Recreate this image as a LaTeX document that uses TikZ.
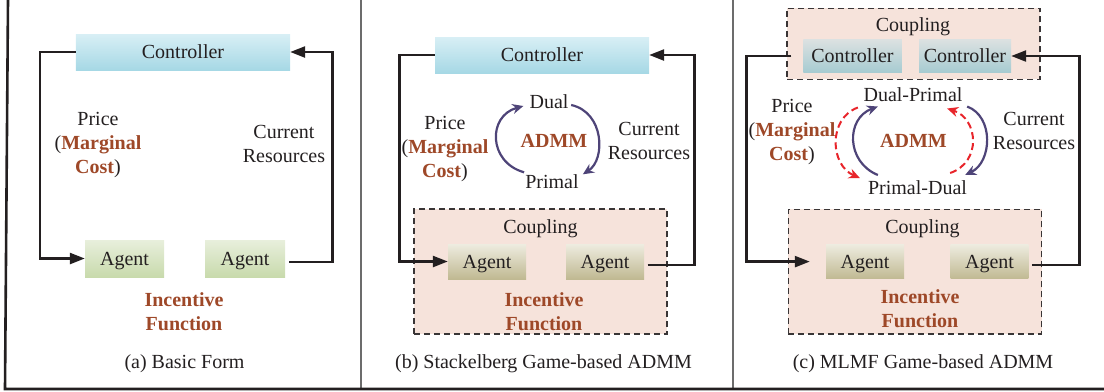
\documentclass[tikz,border=0pt]{standalone}
\usepackage{fontspec}
\setmainfont{Liberation Serif}
\usetikzlibrary{arrows.meta,calc}
\definecolor{ink}{HTML}{231F20}
\definecolor{rust}{RGB}{158,72,40}
\definecolor{loopc}{HTML}{4E4478}
\definecolor{redc}{HTML}{E8252B}
\definecolor{cplfill}{HTML}{F6E3DB}
\definecolor{ctrltop}{RGB}{216,239,245}
\definecolor{ctrlbot}{RGB}{166,216,229}
\definecolor{ctrlgtop}{RGB}{220,225,225}
\definecolor{ctrlgbot}{RGB}{166,203,209}
\definecolor{aggtop}{RGB}{232,239,220}
\definecolor{aggbot}{RGB}{200,218,172}
\definecolor{agttop}{RGB}{238,236,224}
\definecolor{agtbot}{RGB}{192,185,146}
\newcommand\bhi[1]{\textbf{\color{rust}#1}}
\tikzset{
  lbl/.style={inner sep=0pt, text height=13.6bp, text depth=0pt},
  multi/.style={inner sep=0pt, align=center},
  box/.style={lbl, draw=none},
  ctrlblue/.style={box, top color=ctrltop, bottom color=ctrlbot},
  ctrlgray/.style={box, top color=ctrlgtop, bottom color=ctrlgbot},
  agentgreen/.style={box, top color=aggtop, bottom color=aggbot},
  agenttan/.style={box, top color=agttop, bottom color=agtbot},
  cplbox/.style={draw=ink!90, fill=cplfill, line width=1.3bp, dash pattern=on 6bp off 4bp, inner sep=0pt},
  conn/.style={draw=ink, line width=2.5bp},
  tip/.style={-{Triangle[length=15bp,width=11bp]}},
  loopline/.style={draw=loopc, line width=2.2bp, -{Stealth[length=11bp,width=10bp]}},
  redline/.style={draw=redc, line width=2bp, dash pattern=on 7bp off 4bp, -{Stealth[length=11bp,width=10bp]}},
}
\begin{document}
\begin{tikzpicture}[x=1bp, y=-1bp, font=\fontsize{20bp}{24bp}\selectfont, text=ink]
\useasboundingbox (0,0) rectangle (1104,391);

% frame and panel separators
\draw[gray!85!black, line width=1.2bp] (361,0) -- (361,389);
\draw[gray!85!black, line width=1.2bp] (733,0) -- (733,389);
\draw[ink, line width=2.6bp] (8,0) -- (5,389) -- (1104,389);

% ---------------- (a) Basic Form ----------------
\node[ctrlblue, minimum width=214bp, minimum height=36bp] (ctrlA) at (183,52) {Controller};
\node[agentgreen, minimum width=79bp, minimum height=37bp] (agA1) at (124.5,258.5) {Agent};
\node[agentgreen, minimum width=80bp, minimum height=37bp] (agA2) at (245,258.5) {Agent};
\node[multi] (priceA) at (98,145) {Price\\(\bhi{Marginal}\\\bhi{Cost})};
\node[multi] (curA) at (284,143.6) {Current\\Resources};
\node[multi] (incA) at (184,312) {\bhi{Incentive}\\\bhi{Function}};
\node[lbl] (capA) at (184.5,362) {(a) Basic Form};
\coordinate (aL) at (40,0);
\coordinate (aR) at (332.3,0);
\draw[conn, tip] (ctrlA.west) -| (aL |- agA1.west) -- (agA1.west);
\draw[conn, tip] ($(agA2.east)+(4,3.5)$) -| (aR |- ctrlA.east) -- (ctrlA.east);

% ---------------- (b) Stackelberg Game-based ADMM ----------------
\node[cplbox, minimum width=253bp, minimum height=125bp] (cplB) at (540.5,271.5) {};
\node[lbl] (cplBt) at (540.5,227) {Coupling};
\node[ctrlblue, minimum width=214bp, minimum height=36bp] (ctrlB) at (542,55) {Controller};
\node[agenttan, minimum width=78bp, minimum height=35bp] (agB1) at (487,261.5) {Agent};
\node[agenttan, minimum width=78bp, minimum height=35bp] (agB2) at (605,261.5) {Agent};
\node[multi] (priceB) at (445,149.5) {Price\\(\bhi{Marginal}\\\bhi{Cost})};
\node[multi] (curB) at (649,140.5) {Current\\Resources};
\node[multi] (incB) at (544,312) {\bhi{Incentive}\\\bhi{Function}};
\node[lbl] (capB) at (543.5,361.6) {(b) Stackelberg Game-based ADMM};
\node[lbl] (dualB) at (549,102) {Dual};
\node[lbl] (primB) at (552,181.3) {Primal};
\node[lbl] (admmB) at (554,140.5) {\bhi{ADMM}};
\coordinate (bL) at (399.3,0);
\coordinate (bR) at (694.3,0);
\draw[conn, tip] (ctrlB.west) -| (bL |- agB1.west) -- (agB1.west);
\draw[conn, tip] ($(agB2.east)+(3.3,3.5)$) -| (bR |- ctrlB.east) -- (ctrlB.east);
\draw[loopline] ($(primB.north west)+(-1,-2)$) .. controls +(-36,-10) and +(-36,10) .. ($(dualB.west)+(-6,4)$);
\draw[loopline] ($(dualB.east)+(2.5,3)$) .. controls +(33,7) and +(23,-15) .. ($(primB.north east)+(4,0)$);

% ---------------- (c) MLMF Game-based ADMM ----------------
\node[cplbox, minimum width=253bp, minimum height=71bp] (cplTop) at (913.5,43.75) {};
\node[lbl] (cplTopt) at (913,24.7) {Coupling};
\node[ctrlgray, minimum width=98.5bp, minimum height=33.4bp] (ctrlC1) at (852.5,56) {Controller};
\node[ctrlgray, minimum width=92bp, minimum height=33.4bp] (ctrlC2) at (965,56) {Controller};
\node[cplbox, minimum width=253.4bp, minimum height=124.7bp] (cplC) at (915,271.6) {};
\node[lbl] (cplCt) at (922.5,227) {Coupling};
\node[agenttan, minimum width=78bp, minimum height=34.7bp] (agC1) at (865,261.6) {Agent};
\node[agenttan, minimum width=77.6bp, minimum height=34.7bp] (agC2) at (989.5,261.6) {Agent};
\node[multi] (priceC) at (792,132.5) {Price\\(\bhi{Marginal}\\\bhi{Cost})};
\node[multi] (curC) at (1034,130.5) {Current\\Resources};
\node[multi] (incC) at (920,308.8) {\bhi{Incentive}\\\bhi{Function}};
\node[lbl] (capC) at (923,361.6) {(c) MLMF Game-based ADMM};
\node[lbl] (dpC) at (913,94.5) {Dual-Primal};
\node[lbl] (pdC) at (917.5,188) {Primal-Dual};
\node[lbl] (admmC) at (913.5,141) {\bhi{ADMM}};
\coordinate (cL) at (746.7,0);
\coordinate (cR) at (1079.3,0);
\draw[conn, tip] ($(cplTop.west |- ctrlC1.west)+(5,0)$) -| (cL |- agC1.west) -- ($(agC1.west)+(-16,0)$);
\draw[conn, tip] ($(agC2.east)+(3.4,3.4)$) -| (cR |- ctrlC2.east) -- (ctrlC2.east);
% primal-dual loop (solid) and dual-primal loop (dashed)
\draw[loopline] ($(pdC.north west)+(10,-6)$) .. controls +(-32,-13) and +(-32,12) .. ($(dpC.south west)+(14.5,5)$);
\draw[loopline] ($(dpC.south east)+(4.5,5)$) .. controls +(27,10) and +(27,-13) .. ($(pdC.north east)+(-2,-6)$);
\draw[redline] ($(dpC.south west)+(-5.5,6)$) .. controls +(-30,11) and +(-30,-13) .. ($(pdC.north west)+(-8,-3)$);
\draw[redline] ($(pdC.north east)+(-17,-8)$) .. controls +(32,-11) and +(31,10) .. ($(dpC.south east)+(-15.5,7)$);
\end{tikzpicture}
\end{document}
